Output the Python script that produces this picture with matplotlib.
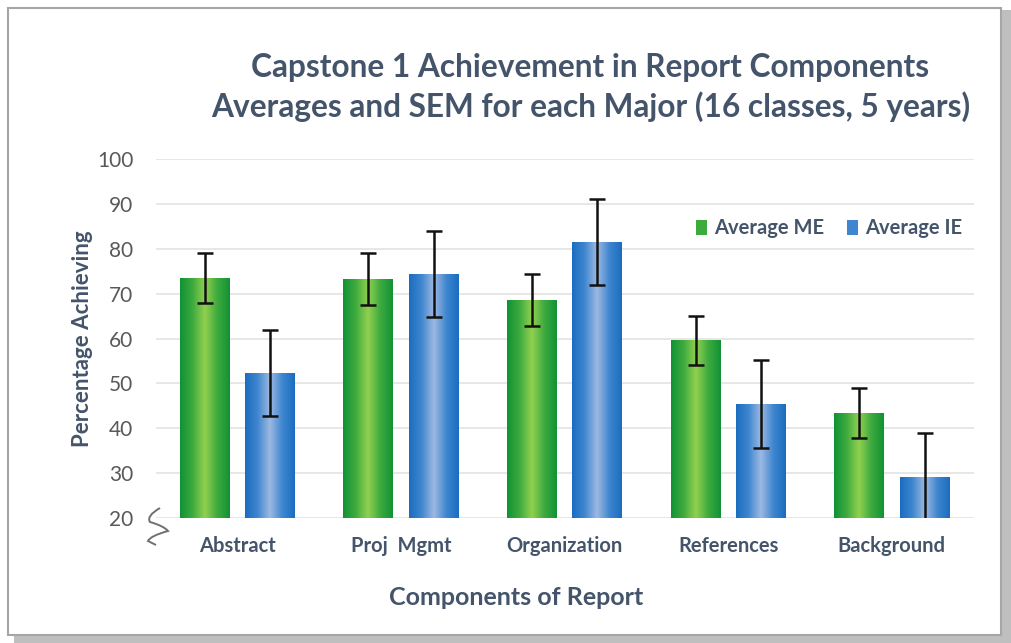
import numpy as np
import matplotlib
matplotlib.use("Agg")
import matplotlib.pyplot as plt
from matplotlib.colors import LinearSegmentedColormap
from matplotlib.patches import Rectangle, Patch
from matplotlib.path import Path
from matplotlib.patches import PathPatch

categories = ["Abstract", "Proj  Mgmt", "Organization", "References", "Background"]
avg_me = [73.5, 73.2, 68.6, 59.6, 43.4]
sem_me = [5.6, 5.8, 5.8, 5.5, 5.6]
avg_ie = [52.3, 74.3, 81.5, 45.4, 29.1]
sem_ie = [9.6, 9.6, 9.6, 9.7, 9.8]
yticks = [20, 30, 40, 50, 60, 70, 80, 90, 100]

plt.rcParams['font.family'] = ['Lato', 'DejaVu Sans']
text_col = "#44546A"
tick_col = "#595959"

fig = plt.figure(figsize=(10.11, 6.43), dpi=100)
# frame with shadow
fig.patches.append(Rectangle((0.014, 0.0), 0.986, 0.985, transform=fig.transFigure,
                             facecolor="#BFBFBF", edgecolor="none", zorder=-3))
fig.patches.append(Rectangle((0.008, 0.012), 0.982, 0.975, transform=fig.transFigure,
                             facecolor="white", edgecolor="#A6A6A6", lw=1.5, zorder=-2))

ax = fig.add_axes([0.154, 0.1944, 0.809, 0.5583])
ax.set_facecolor("none")
ax.set_xlim(-0.5, len(categories) - 0.5)
ax.set_ylim(20, 100)
ax.set_yticks(yticks)
ax.set_yticklabels([str(t) for t in yticks], fontsize=15, color=tick_col)
ax.set_xticks(range(len(categories)))
ax.set_xticklabels(categories, fontsize=14.5, color=text_col, fontweight="bold")
ax.tick_params(length=0, axis="y", pad=16)
ax.tick_params(length=0, axis="x", pad=13)
for s in ax.spines.values():
    s.set_visible(False)
ax.grid(axis="y", color="#E3E3E3", lw=1.2)
ax.set_axisbelow(True)

green_cmap = LinearSegmentedColormap.from_list("g", ["#119235", "#3DAA3E", "#92D050", "#3DAA3E", "#119235"])
blue_cmap = LinearSegmentedColormap.from_list("b", ["#1A6CC0", "#3F86CF", "#9DB9E2", "#3F86CF", "#1A6CC0"])

x = np.arange(len(categories))
w = 0.305
off = 0.2
grad = np.linspace(0, 1, 256).reshape(1, -1)

def gbars(xs, vals, errs, cmap):
    bars = ax.bar(xs, np.array(vals) - 20, w, bottom=20, color="none", edgecolor="none", zorder=2)
    for b in bars:
        x0, y0 = b.get_x(), b.get_y()
        im = ax.imshow(grad, cmap=cmap, aspect="auto", zorder=2,
                       extent=(x0, x0 + b.get_width(), y0, y0 + b.get_height()))
        im.set_clip_path(b)
    ax.errorbar(xs, vals, yerr=errs, fmt="none", ecolor="#111111", elinewidth=1.8,
                capsize=5.5, capthick=1.8, zorder=3, clip_on=True)

gbars(x - off, avg_me, sem_me, green_cmap)
gbars(x + off, avg_ie, sem_ie, blue_cmap)
ax.set_xlim(-0.5, len(categories) - 0.5)
ax.set_ylim(20, 100)

ax.set_ylabel("Percentage Achieving", fontsize=16, color=text_col, fontweight="bold")
ax.yaxis.set_label_coords(-0.077, 0.5)
ax.set_xlabel("Components of Report", fontsize=18, color=text_col, fontweight="bold")
ax.xaxis.set_label_coords(0.441, -0.19)

handles = [Patch(facecolor="#3DAA3E", edgecolor="none"), Patch(facecolor="#3F86CF", edgecolor="none")]
leg = ax.legend(handles, ["Average ME", "Average IE"], loc="upper right", bbox_to_anchor=(1.008, 0.885),
                ncol=2, frameon=False, fontsize=14.5, handlelength=0.55, handleheight=0.8,
                handletextpad=0.35, columnspacing=1.1)
for t in leg.get_texts():
    t.set_color(text_col)
    t.set_fontweight("bold")

fig.text(0.584, 0.895, "Capstone 1 Achievement in Report Components", ha="center", va="center",
         fontsize=22.8, fontweight="bold", color=text_col)
fig.text(0.584, 0.834, "Averages and SEM for each Major (16 classes, 5 years)", ha="center", va="center",
         fontsize=22.8, fontweight="bold", color=text_col)

# axis break squiggle (figure pixel coordinates converted to fraction)
W, H = 1011.0, 643.0
pts = [(160, 508), (146, 516), (150, 522), (164, 526), (168, 531), (150, 536), (148, 541), (156, 545)]
codes = [Path.MOVETO, Path.CURVE3, Path.CURVE3, Path.CURVE3, Path.CURVE3, Path.CURVE3, Path.CURVE3, Path.LINETO]
squig = Path([(px / W, 1 - py / H) for px, py in pts], codes)
fig.patches.append(PathPatch(squig, transform=fig.transFigure, facecolor="none", edgecolor="#707070", lw=1.4))

fig.savefig("out.png", dpi=100)
